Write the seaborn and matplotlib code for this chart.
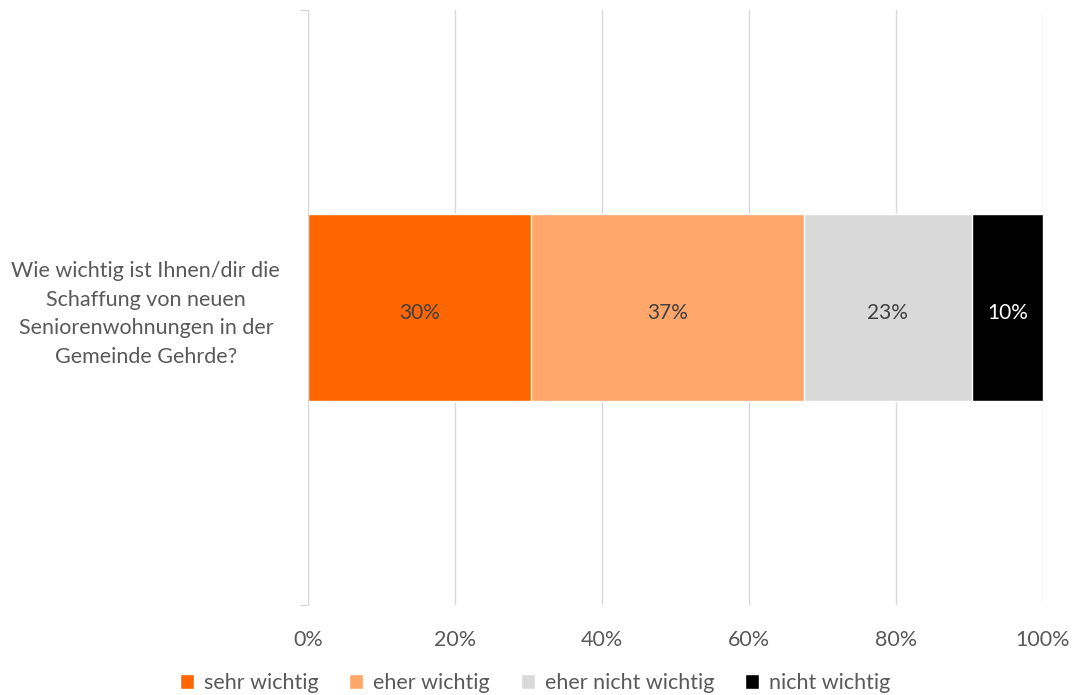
import pandas as pd
import matplotlib.pyplot as plt
import seaborn as sns

# data
question = "Wie wichtig ist Ihnen/dir die\nSchaffung von neuen\nSeniorenwohnungen in der\nGemeinde Gehrde?"
categories = ['sehr wichtig', 'eher wichtig', 'eher nicht wichtig', 'nicht wichtig']
values = [30.3, 37.2, 22.8, 9.7]
labels = ['30%', '37%', '23%', '10%']
colors = ['#FF6600', '#FFA66B', '#D9D9D9', '#000000']
label_colors = ['#404040', '#404040', '#404040', '#FFFFFF']

sns.set_style('white')
plt.rcParams['font.family'] = ['Lato', 'DejaVu Sans']

df = pd.DataFrame({'category': categories, 'value': values})
df['cum'] = df['value'].cumsum()
df['q'] = question

fig = plt.figure(figsize=(10.74, 6.95), dpi=100)
ax = fig.add_axes([0.2868, 0.1295, 0.6843, 0.8561])

# stacked bars: draw cumulative totals from the largest down
for i in reversed(range(len(df))):
    sns.barplot(data=df.iloc[[i]], x='cum', y='q', color=colors[i],
                width=0.313, saturation=1, ax=ax, label=categories[i], zorder=2)

# segment labels
starts = df['cum'] - df['value']
for i, row in df.iterrows():
    ax.text(starts[i] + row['value'] / 2, 0.01, labels[i], ha='center', va='center',
            fontsize=15, color=label_colors[i], zorder=3)

ax.set_xlim(0, 100)
ax.set_ylim(0.5, -0.5)
ax.set_xticks(range(0, 101, 20))
ax.set_xticklabels([f'{t}%' for t in range(0, 101, 20)])
ax.grid(axis='x', color='#D9D9D9', linewidth=1, zorder=0)
ax.set_axisbelow(True)
for s in ['top', 'right', 'bottom']:
    ax.spines[s].set_visible(False)
ax.spines['left'].set_color('#D9D9D9')
ax.tick_params(axis='x', length=0, pad=18, labelsize=15.5, labelcolor='#595959')
ax.tick_params(axis='y', length=0, pad=20, labelsize=15.5, labelcolor='#595959')
ax.set_yticks([-0.5, 0.5], minor=True)
ax.tick_params(axis='y', which='minor', left=True, length=6, width=1,
               color='#D9D9D9', direction='out')
for t in ax.get_yticklabels():
    t.set_multialignment('center')
    t.set_linespacing(1.55)
ax.set_xlabel('')
ax.set_ylabel('')

# legend in original order
handles, leg_labels = ax.get_legend_handles_labels()
order = [leg_labels.index(c) for c in categories]
ax.legend([handles[k] for k in order], categories, loc='center',
          bbox_to_anchor=(535 / 1074, 12 / 695), bbox_transform=fig.transFigure,
          ncol=4, frameon=False, fontsize=15.5, labelcolor='#595959',
          handlelength=0.65, handleheight=0.65, handletextpad=0.45, columnspacing=1.45)

plt.savefig('out.png', dpi=100)
